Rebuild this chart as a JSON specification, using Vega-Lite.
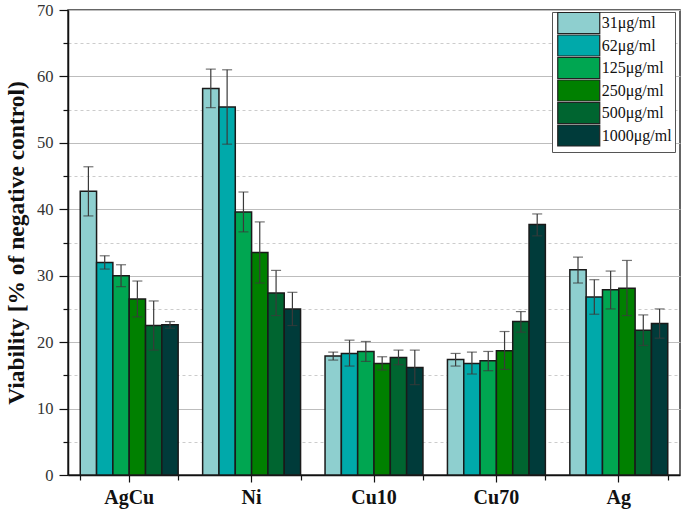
{
  "$schema": "https://vega.github.io/schema/vega-lite/v6.json",
  "width": 612,
  "height": 465,
  "autosize": {"type": "none"},
  "padding": {"left": 68, "top": 10, "right": 10, "bottom": 39},
  "background": "white",
  "config": {
    "view": {"stroke": "#333333", "strokeWidth": 1.5},
    "font": "Liberation Serif"
  },
  "data": {
    "values": [
      {"group": "AgCu", "conc": "31μg/ml", "v": 42.7, "lo": 39.0, "hi": 46.4},
      {"group": "AgCu", "conc": "62μg/ml", "v": 32.0, "lo": 31.0, "hi": 33.0},
      {"group": "AgCu", "conc": "125μg/ml", "v": 30.0, "lo": 28.35, "hi": 31.65},
      {"group": "AgCu", "conc": "250μg/ml", "v": 26.5, "lo": 23.8, "hi": 29.2},
      {"group": "AgCu", "conc": "500μg/ml", "v": 22.5, "lo": 18.8, "hi": 26.2},
      {"group": "AgCu", "conc": "1000μg/ml", "v": 22.6, "lo": 22.1, "hi": 23.1},
      {"group": "Ni", "conc": "31μg/ml", "v": 58.2, "lo": 55.3, "hi": 61.1},
      {"group": "Ni", "conc": "62μg/ml", "v": 55.4, "lo": 49.8, "hi": 61.0},
      {"group": "Ni", "conc": "125μg/ml", "v": 39.6, "lo": 36.6, "hi": 42.6},
      {"group": "Ni", "conc": "250μg/ml", "v": 33.5, "lo": 28.9, "hi": 38.1},
      {"group": "Ni", "conc": "500μg/ml", "v": 27.4, "lo": 24.0, "hi": 30.8},
      {"group": "Ni", "conc": "1000μg/ml", "v": 25.0, "lo": 22.5, "hi": 27.5},
      {"group": "Cu10", "conc": "31μg/ml", "v": 17.9, "lo": 17.3, "hi": 18.5},
      {"group": "Cu10", "conc": "62μg/ml", "v": 18.3, "lo": 16.4, "hi": 20.3},
      {"group": "Cu10", "conc": "125μg/ml", "v": 18.6, "lo": 17.1, "hi": 20.1},
      {"group": "Cu10", "conc": "250μg/ml", "v": 16.8, "lo": 15.8, "hi": 17.8},
      {"group": "Cu10", "conc": "500μg/ml", "v": 17.7, "lo": 16.6, "hi": 18.8},
      {"group": "Cu10", "conc": "1000μg/ml", "v": 16.2, "lo": 13.6, "hi": 18.8},
      {"group": "Cu70", "conc": "31μg/ml", "v": 17.4, "lo": 16.4, "hi": 18.3},
      {"group": "Cu70", "conc": "62μg/ml", "v": 16.8, "lo": 15.2, "hi": 18.5},
      {"group": "Cu70", "conc": "125μg/ml", "v": 17.2, "lo": 15.7, "hi": 18.6},
      {"group": "Cu70", "conc": "250μg/ml", "v": 18.7, "lo": 15.9, "hi": 21.6},
      {"group": "Cu70", "conc": "500μg/ml", "v": 23.1, "lo": 21.5, "hi": 24.6},
      {"group": "Cu70", "conc": "1000μg/ml", "v": 37.7, "lo": 36.0, "hi": 39.3},
      {"group": "Ag", "conc": "31μg/ml", "v": 30.9, "lo": 28.9, "hi": 32.8},
      {"group": "Ag", "conc": "62μg/ml", "v": 26.8, "lo": 24.2, "hi": 29.4},
      {"group": "Ag", "conc": "125μg/ml", "v": 27.9, "lo": 25.0, "hi": 30.7},
      {"group": "Ag", "conc": "250μg/ml", "v": 28.1, "lo": 24.0, "hi": 32.3},
      {"group": "Ag", "conc": "500μg/ml", "v": 21.8, "lo": 19.5, "hi": 24.1},
      {"group": "Ag", "conc": "1000μg/ml", "v": 22.8, "lo": 20.6, "hi": 25.0}
    ]
  },
  "resolve": {"axis": {"x": "independent", "y": "independent"}},
  "layer": [
    {
      "mark": {"type": "bar", "stroke": "#1a1a1a", "strokeWidth": 1.5},
      "encoding": {
        "x": {
          "field": "group", "type": "nominal",
          "sort": ["AgCu", "Ni", "Cu10", "Cu70", "Ag"],
          "scale": {"paddingInner": 0.2, "paddingOuter": 0.1},
          "axis": {
            "title": null, "orient": "bottom", "labelAngle": 0,
            "labelFont": "Liberation Serif", "labelFontSize": 20, "labelFontWeight": "bold",
            "labelColor": "#111111", "labelPadding": 5,
            "domainColor": "#111111", "domainWidth": 1.5,
            "tickColor": "#111111", "tickSize": 7, "tickWidth": 1.2, "grid": false
          }
        },
        "xOffset": {
          "field": "conc", "type": "nominal",
          "sort": ["31μg/ml", "62μg/ml", "125μg/ml", "250μg/ml", "500μg/ml", "1000μg/ml"],
          "scale": {"paddingInner": 0, "paddingOuter": 0}
        },
        "y": {
          "field": "v", "type": "quantitative",
          "scale": {"domain": [0, 70], "nice": false},
          "axis": {
            "title": "Viability [% of negative control)",
            "titleFont": "Liberation Serif", "titleFontSize": 23.5, "titleFontWeight": "bold",
            "titleColor": "#111111", "titlePadding": 8,
            "orient": "left",
            "values": [0, 10, 20, 30, 40, 50, 60, 70],
            "labelFont": "Liberation Serif", "labelFontSize": 16.5, "labelColor": "#333333",
            "labelPadding": 6,
            "domainColor": "#111111", "domainWidth": 1.5,
            "tickColor": "#111111", "tickSize": 9, "tickWidth": 1.2,
            "grid": true, "gridColor": "#bdbdbd", "gridWidth": 1.2
          }
        },
        "color": {
          "field": "conc", "type": "nominal",
          "sort": ["31μg/ml", "62μg/ml", "125μg/ml", "250μg/ml", "500μg/ml", "1000μg/ml"],
          "scale": {
            "domain": ["31μg/ml", "62μg/ml", "125μg/ml", "250μg/ml", "500μg/ml", "1000μg/ml"],
            "range": ["#8ecfcf", "#00a9aa", "#00a651", "#008000", "#006530", "#003b3a"]
          },
          "legend": {
            "title": null, "orient": "none", "legendX": 484, "legendY": 2,
            "fillColor": "white", "strokeColor": "#555555", "padding": 3,
            "symbolType": "M-4,-2H4V2H-4Z", "symbolSize": 110.25,
            "symbolOffset": 15.75, "symbolStrokeColor": "#222222", "symbolStrokeWidth": 1.2,
            "symbolOpacity": 1,
            "labelOffset": 15, "labelFont": "Liberation Serif", "labelFontSize": 16,
            "labelColor": "#111111", "rowPadding": -3.5, "labelLimit": 200
          }
        }
      }
    },
    {
      "mark": {"type": "rule", "color": "#3a3a3a", "strokeWidth": 1.2},
      "encoding": {
        "x": {
          "field": "group", "type": "nominal",
          "sort": ["AgCu", "Ni", "Cu10", "Cu70", "Ag"],
          "axis": {
            "title": null, "orient": "bottom", "labels": false, "domain": false,
            "tickBand": "extent", "tickSize": 5, "tickColor": "#111111", "tickWidth": 1.2,
            "grid": false
          }
        },
        "xOffset": {
          "field": "conc", "type": "nominal",
          "sort": ["31μg/ml", "62μg/ml", "125μg/ml", "250μg/ml", "500μg/ml", "1000μg/ml"]
        },
        "y": {
          "field": "lo", "type": "quantitative",
          "axis": {
            "title": null, "orient": "left", "labels": false, "domain": false,
            "values": [5, 15, 25, 35, 45, 55, 65],
            "tickSize": 5, "tickColor": "#111111", "tickWidth": 1.2,
            "grid": true, "gridColor": "#cccccc", "gridDash": [3, 3], "gridWidth": 1
          }
        },
        "y2": {"field": "hi"}
      }
    },
    {
      "mark": {"type": "tick", "color": "#3a3a3a", "size": 10, "thickness": 1.2},
      "encoding": {
        "x": {"field": "group", "type": "nominal", "sort": ["AgCu", "Ni", "Cu10", "Cu70", "Ag"], "axis": null},
        "xOffset": {
          "field": "conc", "type": "nominal",
          "sort": ["31μg/ml", "62μg/ml", "125μg/ml", "250μg/ml", "500μg/ml", "1000μg/ml"]
        },
        "y": {"field": "lo", "type": "quantitative", "axis": null}
      }
    },
    {
      "mark": {"type": "tick", "color": "#3a3a3a", "size": 10, "thickness": 1.2},
      "encoding": {
        "x": {"field": "group", "type": "nominal", "sort": ["AgCu", "Ni", "Cu10", "Cu70", "Ag"], "axis": null},
        "xOffset": {
          "field": "conc", "type": "nominal",
          "sort": ["31μg/ml", "62μg/ml", "125μg/ml", "250μg/ml", "500μg/ml", "1000μg/ml"]
        },
        "y": {"field": "hi", "type": "quantitative", "axis": null}
      }
    }
  ]
}
